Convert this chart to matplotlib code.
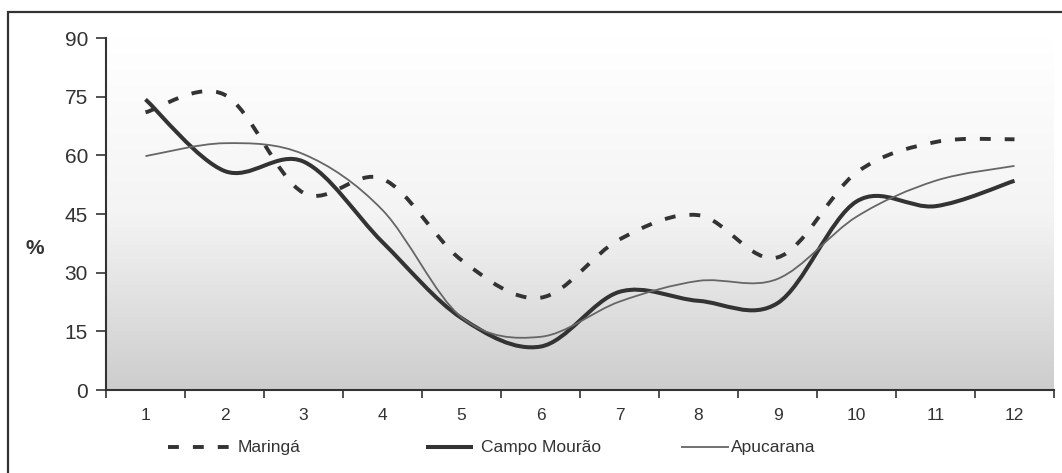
import numpy as np
import matplotlib
matplotlib.use("Agg")
import matplotlib.pyplot as plt
from matplotlib.path import Path
from matplotlib.patches import PathPatch, Rectangle
from matplotlib.lines import Line2D

# monthly values (%) for each station
months = list(range(1, 13))
maringa = [71.0, 75.5, 50.4, 54.0, 33.2, 23.6, 38.5, 44.7, 33.9, 55.6, 63.4, 64.1]
campo_mourao = [74.3, 56.0, 58.4, 37.8, 18.4, 11.1, 25.1, 22.8, 22.2, 48.2, 47.0, 53.5]
apucarana = [59.8, 63.1, 60.3, 46.0, 18.6, 13.6, 22.6, 27.9, 28.4, 44.3, 53.5, 57.3]
y_ticks = [0, 15, 30, 45, 60, 75, 90]

DARK = "#333333"


def smooth_path(xs, ys):
    # Catmull-Rom style cubic Bezier through every point (spreadsheet "smoothed line")
    pts = np.column_stack([xs, ys]).astype(float)
    ext = np.vstack([pts[0], pts, pts[-1]])
    verts = [pts[0]]
    codes = [Path.MOVETO]
    for i in range(len(pts) - 1):
        p0, p1, p2, p3 = ext[i], ext[i + 1], ext[i + 2], ext[i + 3]
        c1 = p1 + (p2 - p0) / 6.0
        c2 = p2 - (p3 - p1) / 6.0
        verts += [c1, c2, p2]
        codes += [Path.CURVE4] * 3
    return Path(verts, codes)


fig = plt.figure(figsize=(10.62, 4.73), dpi=100)
ax = fig.add_axes([106 / 1062, (473 - 390) / 473, 948 / 1062, 352 / 473])

# outer chart frame
fig.add_artist(Rectangle((8 / 1062, -0.05), 1.2, (473 - 12) / 473 + 0.05,
                         transform=fig.transFigure, fill=False,
                         edgecolor=DARK, linewidth=1.6))

# white-to-grey gradient plot area
grad = np.linspace(1.0, 0.0, 256).reshape(-1, 1)
ax.imshow(grad, extent=[0, 1, 0, 1], transform=ax.transAxes, aspect="auto",
          cmap=matplotlib.colors.LinearSegmentedColormap.from_list(
              "bg", ["#cdcdcd", "#f4f4f4", "#ffffff"]),
          vmin=0, vmax=1, zorder=0)

dash = (0, (2.8, 3.6))
series = [
    (maringa, dict(linestyle=dash, linewidth=2.8, edgecolor=DARK)),
    (campo_mourao, dict(linestyle="-", linewidth=2.9, edgecolor=DARK)),
    (apucarana, dict(linestyle="-", linewidth=1.3, edgecolor="#666666")),
]
for values, style in series:
    ax.add_patch(PathPatch(smooth_path(months, values), facecolor="none",
                           capstyle="butt", zorder=3, **style))

ax.set_xlim(0.5, 12.5)
ax.set_ylim(0, 90)

for side in ["top", "right"]:
    ax.spines[side].set_visible(False)
for side in ["left", "bottom"]:
    ax.spines[side].set_color(DARK)
    ax.spines[side].set_linewidth(1.5)

ax.set_yticks(y_ticks)
ax.set_yticklabels([str(v) for v in y_ticks], family="Liberation Sans",
                   fontsize=15, color=DARK)
ax.tick_params(axis="y", length=7, width=1.2, color=DARK, pad=6)

ax.set_xticks(np.arange(0.5, 13.0, 1.0))
ax.set_xticklabels([])
ax.set_xticks(months, minor=True)
ax.set_xticklabels([str(m) for m in months], minor=True,
                   family=["Liberation Sans Narrow", "Liberation Sans"],
                   fontsize=12.5, color=DARK)
ax.tick_params(axis="x", which="major", length=6, width=1.2, color=DARK)
ax.tick_params(axis="x", which="minor", length=0, pad=13)

fig.text(35 / 1062, 1 - 248 / 473, "%", fontsize=15, fontweight="bold",
         family="Liberation Sans", color=DARK, ha="center", va="center")

# legend row under the axis
legend_items = [
    ("Maringá", 168, 230, 238, dict(linestyle=dash, linewidth=2.8, color=DARK)),
    ("Campo Mourão", 426, 473, 481, dict(linestyle="-", linewidth=2.9, color=DARK)),
    ("Apucarana", 681, 729, 731, dict(linestyle="-", linewidth=1.3, color="#666666")),
]
ly = 1 - 447 / 473
for label, x0, x1, tx, style in legend_items:
    fig.add_artist(Line2D([x0 / 1062, x1 / 1062], [ly, ly],
                          transform=fig.transFigure, solid_capstyle="butt",
                          dash_capstyle="butt", **style))
    fig.text(tx / 1062, ly, label, fontsize=12.5, color=DARK, va="center",
             family=["Liberation Sans Narrow", "Liberation Sans"])

fig.savefig("out.png", dpi=100)
